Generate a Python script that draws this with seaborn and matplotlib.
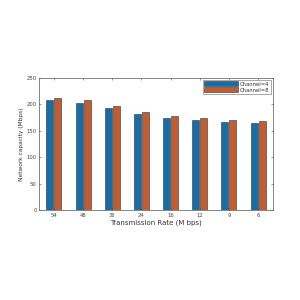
import matplotlib
matplotlib.use("Agg")
import matplotlib.pyplot as plt
import seaborn as sns
import pandas as pd

rates = ["54", "48", "36", "24", "16", "12", "9", "6"]
channel4 = [207.5, 203, 192.5, 182, 173, 170, 167, 165]
channel8 = [211.5, 207.5, 197, 185, 177.5, 174, 170.5, 168.5]
series_names = ["Channel=4", "Channel=8"]

df = pd.DataFrame({
    "rate": rates * 2,
    "value": channel4 + channel8,
    "series": [series_names[0]] * len(rates) + [series_names[1]] * len(rates),
})

sns.set_style("white")
plt.rcParams['font.family'] = ['DejaVu Sans']

fig = plt.figure(figsize=(3, 3), dpi=100)
ax = fig.add_axes([0.131, 0.30, 0.778, 0.441])
sns.barplot(data=df, x="rate", y="value", hue="series", order=rates,
            palette=["#0072BD", "#D95319"], width=0.55, gap=0.12,
            edgecolor="#333333", linewidth=0.4, ax=ax)

ax.set_ylim(0, 250)
ax.set_xlim(-0.5, 7.5)
ax.set_yticks([0, 50, 100, 150, 200, 250])
ax.set_xlabel("Transmission Rate (M bps)", fontsize=5, labelpad=1, color="#333333")
ax.set_ylabel("Network capacity (Mbps)", fontsize=4.2, labelpad=2, color="#333333")
ax.tick_params(direction="in", length=1.5, width=0.4, labelsize=3.8, pad=2, colors="#444444")
for s in ax.spines.values():
    s.set_linewidth(0.5)
    s.set_color("#555555")
ax.yaxis.set_ticks_position("both")
ax.xaxis.set_ticks_position("both")

leg = ax.legend(loc="upper right", fontsize=3.8, frameon=True, fancybox=False,
                edgecolor="#444444", handlelength=6.5, handleheight=1.0,
                borderpad=0.3, labelspacing=0.15, handletextpad=0.2,
                borderaxespad=0.4)
leg.get_frame().set_linewidth(0.4)
for t in leg.get_texts():
    t.set_color("#333333")

fig.savefig("out.png", dpi=100, facecolor="white")
